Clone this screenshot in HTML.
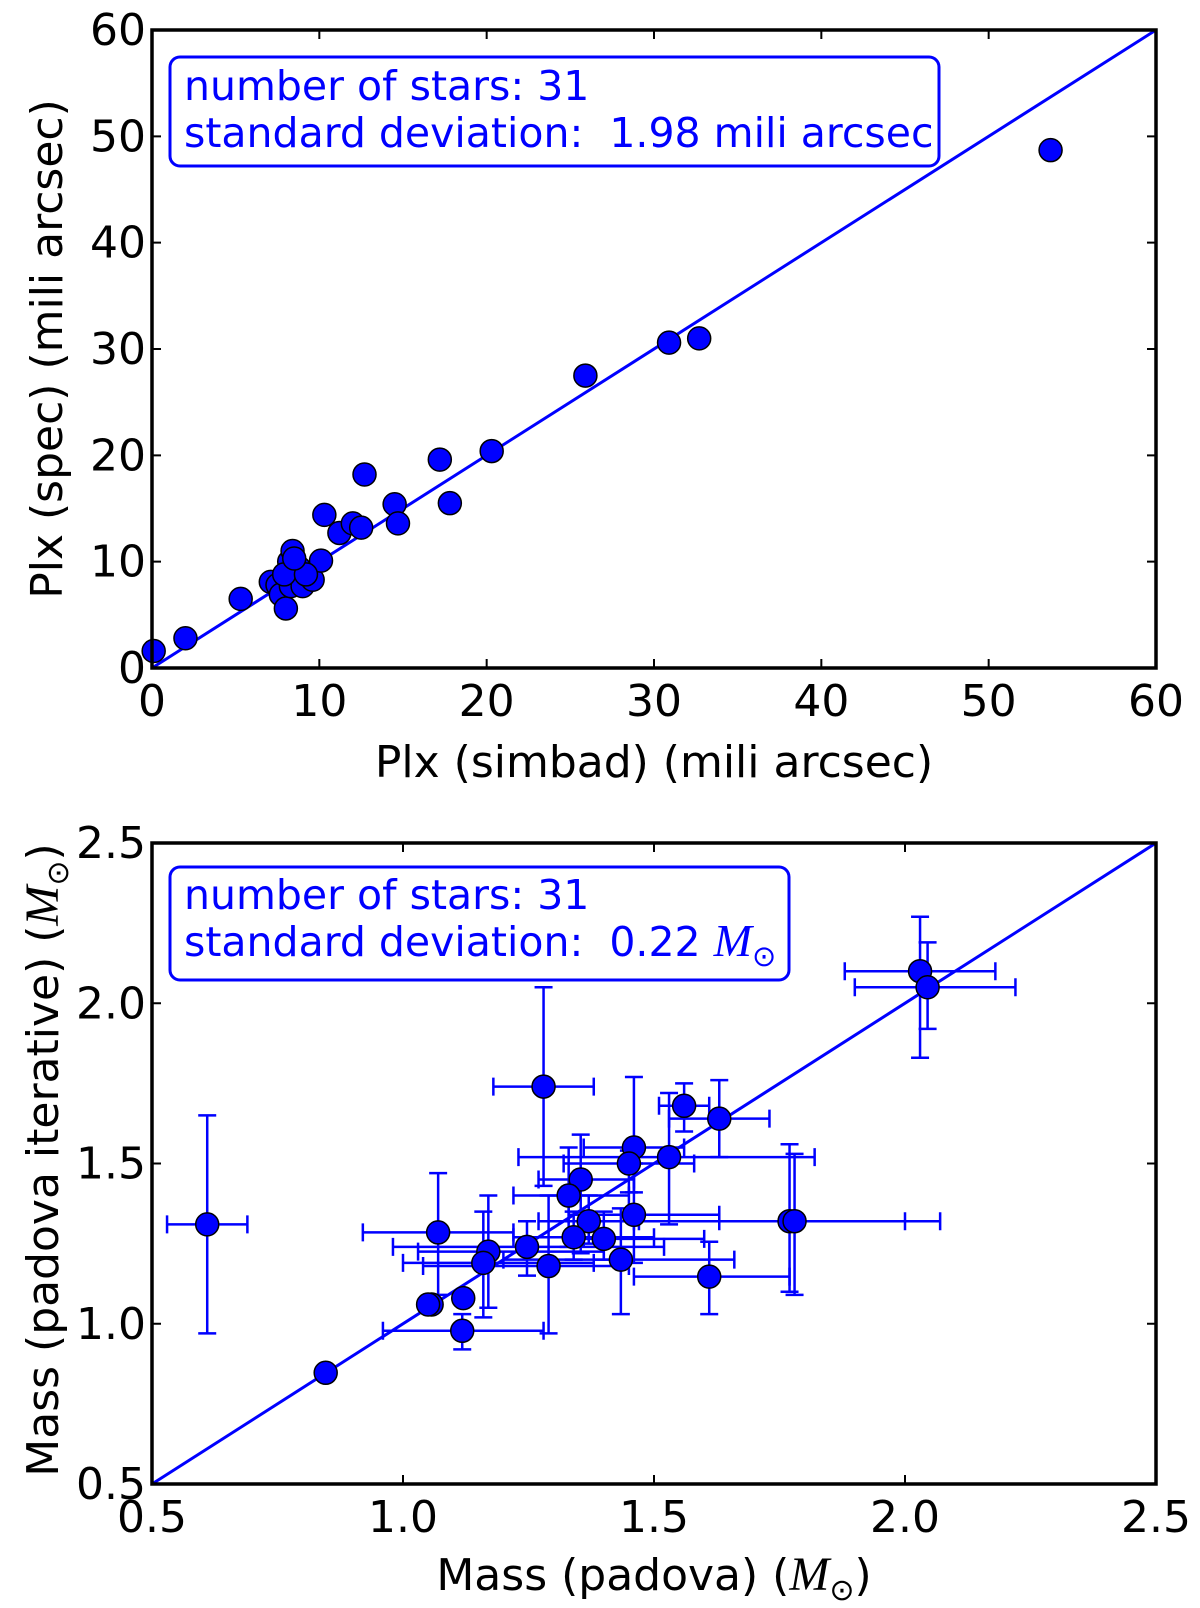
<!DOCTYPE html>
<html><head><meta charset="utf-8"><style>
body{margin:0;background:#fff;}
svg{display:block;}
text{font-family:"DejaVu Sans","Liberation Sans",sans-serif;}
</style></head><body>
<svg id="fig" width="1200" height="1608" viewBox="0 0 1200 1608" xmlns="http://www.w3.org/2000/svg"></svg>
<script>
// ---- top chart data (parallax) ----
const plxSimbad = [0.1,2.0,5.3,7.1,7.5,7.7,8.0,8.2,8.4,8.3,8.8,9.0,9.6,10.1,10.3,11.2,12.0,12.5,12.7,14.5,14.7,17.2,17.8,20.3,25.9,30.9,32.7,53.7,7.9,9.2,8.5];
const plxSpec   = [1.6,2.8,6.5,8.1,7.8,6.9,5.6,10.0,11.0,7.7,9.4,7.7,8.3,10.1,14.4,12.7,13.6,13.2,18.2,15.4,13.6,19.6,15.5,20.4,27.5,30.6,31.0,48.7,8.8,8.8,10.3];
const topTicks = [0,10,20,30,40,50,60];
// ---- bottom chart data (mass) ----
const massPadova = [0.61,0.846,1.28,1.56,1.63,1.46,1.45,1.53,1.354,1.33,1.46,1.37,1.77,1.78,1.34,1.40,1.247,1.17,1.16,1.29,1.434,1.07,1.61,1.057,1.05,1.12,1.118,2.03,2.045];
const massIter   = [1.31,0.847,1.74,1.68,1.64,1.55,1.50,1.52,1.45,1.40,1.34,1.32,1.32,1.32,1.27,1.265,1.24,1.225,1.19,1.18,1.20,1.285,1.147,1.06,1.06,1.08,0.978,2.10,2.05];
const xLow  = [0.53,null,1.18,1.51,1.53,1.36,1.32,1.23,1.27,1.22,1.33,1.27,1.46,1.63,1.22,1.36,0.98,1.03,1.00,1.04,1.20,0.92,1.46,null,null,null,0.96,1.88,1.90];
const xHigh = [0.69,null,1.38,1.61,1.73,1.56,1.58,1.82,1.46,1.45,1.63,1.47,2.00,2.07,1.50,1.60,1.52,1.40,1.38,1.45,1.66,1.22,1.77,null,null,null,1.28,2.18,2.22];
const yLow  = [0.97,null,1.43,1.60,1.52,1.41,1.41,1.31,1.22,1.24,1.19,1.25,1.10,1.09,1.20,1.20,1.15,1.05,1.02,0.97,1.03,1.09,1.03,null,null,null,0.92,1.83,1.92];
const yHigh = [1.65,null,2.05,1.75,1.76,1.77,1.54,1.72,1.59,1.55,1.50,1.40,1.56,1.53,1.35,1.35,1.32,1.40,1.35,1.40,1.36,1.47,1.256,null,null,null,1.03,2.27,2.19];
const botTicks = [0.5,1.0,1.5,2.0,2.5];

const NS="http://www.w3.org/2000/svg";
const svg=document.getElementById('fig');
function mk(tag,attrs,parent){const e=document.createElementNS(NS,tag);for(const k in attrs)e.setAttribute(k,attrs[k]);(parent||svg).appendChild(e);return e;}

function axes(L,R,T,B,min,max){
  return {x:v=>L+(v-min)/(max-min)*(R-L), y:v=>B-(v-min)/(max-min)*(B-T)};
}
const BLUE="#0000ff";
const FS=44;
const BFS=41;

function drawFrame(g,L,R,T,B,ticks,ax,fmt,name){
  ticks.forEach(t=>{
    const x=ax.x(t), y=ax.y(t);
    const tk=mk('path',{d:`M${x},${B}v-9M${x},${T}v9M${L},${y}h9M${R},${y}h-9`,stroke:'#000','stroke-width':2},g);
    
    
    const tx=mk('text',{x:x,y:B+48,'font-size':FS,'text-anchor':'middle'},g);
    tx.textContent=fmt(t);
    
    
    const ty=mk('text',{x:L-6,y:y+15,'font-size':FS,'text-anchor':'end'},g);
    ty.textContent=fmt(t);
    
    
  });
}

// ===== TOP =====
{
  const L=152,R=1156,T=30,B=668;
  const ax=axes(L,R,T,B,0,60);
  const g=mk('g',{});
  
  
  const ln=mk('line',{x1:ax.x(0),y1:ax.y(0),x2:ax.x(60),y2:ax.y(60),stroke:BLUE,'stroke-width':3},g);
  
  
  plxSimbad.forEach((v,i)=>{
    const c=mk('circle',{cx:ax.x(v),cy:ax.y(plxSpec[i]),r:11.5,fill:BLUE,stroke:'#000','stroke-width':1.5},g);
    
    
  });
  const fr=mk('rect',{x:L,y:T,width:R-L,height:B-T,fill:'none',stroke:'#000','stroke-width':3.5},g);
  
  
  drawFrame(g,L,R,T,B,topTicks,ax,t=>String(t),'top');
  const bx=mk('rect',{x:170,y:57,width:769,height:109,rx:10,fill:'#fff',stroke:BLUE,'stroke-width':3},g);
  
  
  const t1=mk('text',{x:184,y:100,'font-size':BFS,fill:BLUE},g);t1.textContent='number of stars: 31';
  
  const t2=mk('text',{x:184,y:147,'font-size':BFS,fill:BLUE},g);t2.textContent='standard deviation:\u00a0 1.98 mili arcsec';
  
  const xl=mk('text',{x:654,y:777,'font-size':FS,'text-anchor':'middle'},g);xl.textContent='Plx (simbad) (mili arcsec)';
  
  const yl=mk('text',{x:0,y:0,'font-size':FS,'text-anchor':'middle',transform:'translate(62,349) rotate(-90)'},g);yl.textContent='Plx (spec) (mili arcsec)';
  
}

// ===== BOTTOM =====
{
  const L=152,R=1156,T=843,B=1484;
  const ax=axes(L,R,T,B,0.5,2.5);
  const g=mk('g',{});
  
  
  const ln=mk('line',{x1:ax.x(0.5),y1:ax.y(0.5),x2:ax.x(2.5),y2:ax.y(2.5),stroke:BLUE,'stroke-width':3},g);
  
  
  massPadova.forEach((v,i)=>{
    if(xLow[i]==null)return;
    const cx=ax.x(v),cy=ax.y(massIter[i]);
    const x1=ax.x(xLow[i]),x2=ax.x(xHigh[i]),y1=ax.y(yHigh[i]),y2=ax.y(yLow[i]);
    const e=mk('path',{d:`M${x1},${cy}H${x2}M${x1},${cy-9}v18M${x2},${cy-9}v18M${cx},${y1}V${y2}M${cx-9},${y1}h18M${cx-9},${y2}h18`,stroke:BLUE,'stroke-width':2.5,fill:'none'},g);
    
    
  });
  massPadova.forEach((v,i)=>{
    const c=mk('circle',{cx:ax.x(v),cy:ax.y(massIter[i]),r:11.5,fill:BLUE,stroke:'#000','stroke-width':1.5},g);
    
    
  });
  const fr=mk('rect',{x:L,y:T,width:R-L,height:B-T,fill:'none',stroke:'#000','stroke-width':3.5},g);
  
  
  drawFrame(g,L,R,T,B,botTicks,ax,t=>t.toFixed(1),'bottom');
  const bx=mk('rect',{x:170,y:867,width:619,height:113,rx:10,fill:'#fff',stroke:BLUE,'stroke-width':3},g);
  
  
  const t1=mk('text',{x:184,y:909,'font-size':BFS,fill:BLUE},g);t1.textContent='number of stars: 31';
  
  const t2=mk('text',{x:184,y:956,'font-size':BFS,fill:BLUE},g);
  t2.innerHTML='standard deviation:\u00a0 0.22 <tspan font-family="Liberation Serif, serif" font-style="italic" font-size="46">M</tspan><tspan font-size="29" dy="10">⊙</tspan>';
  
  const xl=mk('text',{x:654,y:1590,'font-size':FS,'text-anchor':'middle'},g);
  xl.innerHTML='Mass (padova) (<tspan font-family="Liberation Serif, serif" font-style="italic" font-size="48">M</tspan><tspan font-size="30" dy="10">⊙</tspan><tspan dy="-10">)</tspan>';
  
  const yl=mk('text',{x:0,y:0,'font-size':FS,'text-anchor':'middle',transform:'translate(58,1160) rotate(-90)'},g);
  yl.innerHTML='Mass (padova iterative) (<tspan font-family="Liberation Serif, serif" font-style="italic" font-size="48">M</tspan><tspan font-size="30" dy="10">⊙</tspan><tspan dy="-10">)</tspan>';
  
}
</script>
</body></html>
